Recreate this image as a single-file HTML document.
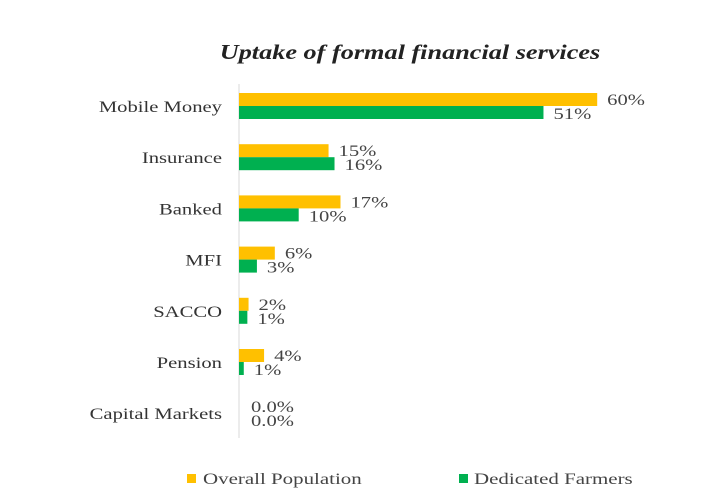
<!DOCTYPE html>
<html><head><meta charset="utf-8">
<style>
body{margin:0;background:#fff;}
svg{display:block;font-family:"Liberation Serif",serif;}
</style></head>
<body>
<svg id="chart" width="727" height="500">
<text x="410" y="59" text-anchor="middle" font-size="21" font-style="italic" font-weight="bold" fill="#222" transform="translate(410,0) scale(1.25,1) translate(-410,0)">Uptake of formal financial services</text>
<line x1="239" y1="84" x2="239" y2="438" stroke="#d9d9d9" stroke-width="1"/>
<g id="bars"></g>
<rect x="187" y="474" width="9" height="9" fill="#ffc000"/>
<text x="203" y="484" font-size="16" fill="#444" transform="translate(203,0) scale(1.31,1) translate(-203,0)">Overall Population</text>
<rect x="459" y="474" width="9" height="9" fill="#00b050"/>
<text x="474" y="484" font-size="16" fill="#444" transform="translate(474,0) scale(1.31,1) translate(-474,0)">Dedicated Farmers</text>
</svg>
<script>
const categories=["Mobile Money","Insurance","Banked","MFI","SACCO","Pension","Capital Markets"];
const overall=[60,15,17,6,1.6,4.2,0];
const farmers=[51,16,10,3,1.4,0.8,0];
const overallLabels=["60%","15%","17%","6%","2%","4%","0.0%"];
const farmersLabels=["51%","16%","10%","3%","1%","1%","0.0%"];
const NS="http://www.w3.org/2000/svg";
const g=document.getElementById('bars');
const x0=239,pxPer=5.97,top0=106,step=51.2,bh=13,SX=1.29;
const xs=v=>v*pxPer;
function mk(tag,attrs){const e=document.createElementNS(NS,tag);for(const k in attrs)e.setAttribute(k,attrs[k]);g.appendChild(e);return e;}
function stretch(e,x){e.setAttribute('transform',`translate(${x},0) scale(${SX},1) translate(${-x},0)`);}
categories.forEach((c,i)=>{
  const cy=top0+i*step;
  const t=mk('text',{x:222,y:cy+6,'text-anchor':'end','font-size':16,fill:'#333'});
  t.textContent=c;
  stretch(t,222);
  
  
  const r1=mk('rect',{x:x0,y:cy-bh,width:xs(overall[i]),height:bh,fill:'#ffc000'});
  
  
  const r2=mk('rect',{x:x0,y:cy,width:xs(farmers[i]),height:bh,fill:'#00b050'});
  
  
  const lx1=x0+xs(overall[i])+(overall[i]===0?12:10);
  const l1=mk('text',{x:lx1,y:cy-1,'font-size':16,fill:'#444'});
  l1.textContent=overallLabels[i];
  stretch(l1,lx1);
  
  
  const lx2=x0+xs(farmers[i])+(farmers[i]===0?12:10);
  const l2=mk('text',{x:lx2,y:cy+13,'font-size':16,fill:'#444'});
  l2.textContent=farmersLabels[i];
  stretch(l2,lx2);
  
  
});
</script>
</body></html>
